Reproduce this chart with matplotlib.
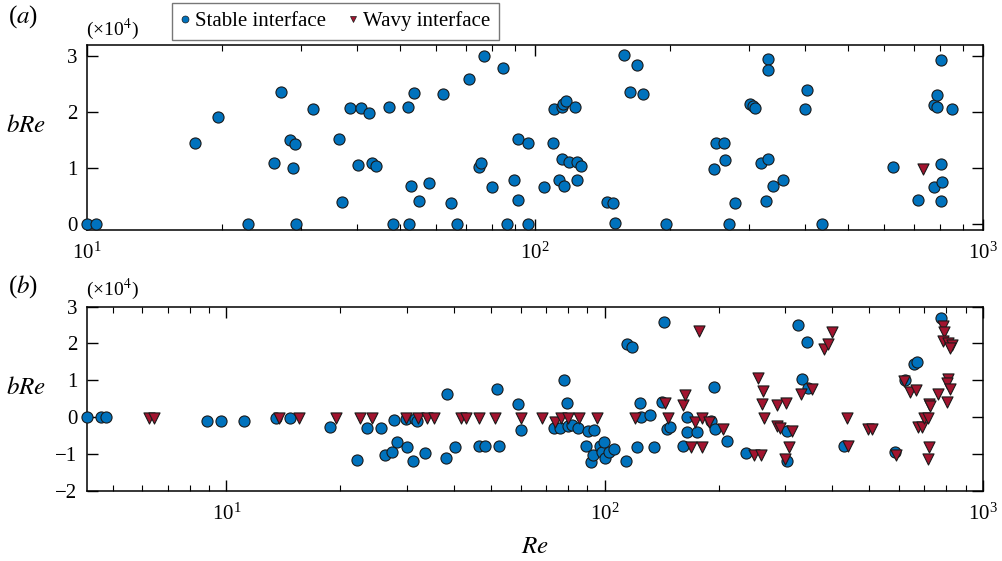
import matplotlib
matplotlib.use('Agg')
import matplotlib.pyplot as plt
from matplotlib.lines import Line2D

plt.rcParams['font.family'] = ['Liberation Serif', 'DejaVu Serif']
plt.rcParams['mathtext.fontset'] = 'stix'
plt.rcParams['axes.unicode_minus'] = True

BLUE = '#0072BD'
RED = '#A2142F'

# panel (a): Re and bRe (x1e4)
a_stable_re = [10.0, 10.46, 17.45, 19.6, 22.9, 26.2, 27.1, 28.4, 28.8, 29.1, 29.3, 32.0,
               36.6, 37.0, 38.6, 40.3, 40.9, 42.6, 43.3, 44.1, 47.3, 48.1, 52.1, 52.2,
               53.0, 53.8, 55.2, 58.0, 62.4, 64.8, 66.9, 71.3, 75.1, 75.8, 76.9, 80.2,
               84.9, 86.7, 89.6, 91.8, 91.8, 96.6, 96.6, 104.7, 109.5, 110.3, 113.3,
               114.7, 114.7, 115.6, 116.1, 117.1, 119.3, 122.8, 124.0, 124.3, 126.7,
               144.8, 149.3, 150.6, 158, 163, 169, 174, 196, 250.6, 254, 264, 266, 271,
               279.5, 302, 307, 310, 319.6, 327, 331, 332, 332, 340, 357, 400.6, 405,
               438, 630, 717, 776, 777, 788, 788, 805, 805, 807, 809, 851]
a_stable_b = [0.0, 0.0, 1.46, 1.92, 0.0, 1.09, 2.36, 1.51, 1.01, 1.44, 0.0, 2.05,
              1.52, 0.40, 2.08, 1.06, 2.08, 1.99, 1.10, 1.04, 2.09, 0.0, 2.09, 0.0,
              0.68, 2.35, 0.42, 0.74, 2.33, 0.39, 0.01, 2.59, 1.02, 1.10, 3.0, 0.66,
              2.79, 0.0, 0.79, 1.52, 0.43, 1.46, 0.0, 0.66, 1.45, 2.05, 0.79,
              2.09, 1.17, 2.14, 0.68, 2.20, 1.11, 2.09, 0.79, 1.11, 1.04,
              0.40, 0.38, 0.02, 3.02, 2.36, 2.84, 2.33, 0.0, 0.98, 1.46, 1.46, 1.15, 0.0,
              0.38, 2.15, 2.11, 2.08, 1.09, 0.42, 1.17, 2.95, 2.76, 0.68, 0.79, 2.06, 2.39,
              0.0, 1.03, 0.43, 0.67, 2.13, 2.31, 2.10, 2.93, 1.08, 0.41, 0.76, 2.06]
a_wavy_re = [735]
a_wavy_b = [0.99]

# panel (b)
b_stable_re = [4.28, 4.67, 4.80, 8.89, 9.66, 11.1, 13.5, 14.7, 18.75, 22.2, 23.5, 25.6,
               26.3, 27.4, 27.8, 28.3, 29.8, 30.1, 31.1, 31.5, 31.9, 33.5, 38.0, 38.3,
               40.3, 46.5, 48.4, 52.0, 52.6, 59.1, 60.0, 73.6, 76.2, 78.2, 79.4, 80.1,
               81.8, 85.0, 89.5, 90.5, 92.0, 93.3, 93.7, 97.2, 98.2, 99.5, 100.2, 102.7,
               106.0, 113.6, 114.8, 118.1, 121.7, 124.0, 124.7, 131.5, 135.0, 141.5,
               143.5, 146.4, 148.9, 164.8, 164.8, 161.4, 175.2, 190.7, 194.3, 195.8,
               210.3, 236.5, 303, 304, 325, 333, 342, 345.6, 430, 586, 623, 658, 671, 776]
b_stable_b = [0.0, -0.01, -0.01, -0.1, -0.1, -0.1, -0.03, -0.03, -0.28, -1.17, -0.29, -0.29,
              -1.03, -0.96, -0.09, -0.68, -0.05, -0.80, -1.18, -0.05, -0.10, -0.97, -1.11, 0.64,
              -0.82, -0.79, -0.78, 0.765, -0.78, 0.36, -0.36, -0.29, -0.29, 1.0, 0.38, -0.25,
              -0.22, -0.29, -0.79, -0.37, -1.21, -1.03, -0.36, -0.78, -0.96, -0.68, -1.11, -0.96,
              -0.86, -1.18, 1.99, 1.91, -0.81, 0.37, 0.0, 0.05, -0.81, 0.42,
              2.58, -0.31, -0.27, 0.0, -0.41, -0.78, -0.40, -0.11, 0.81, -0.31,
              -0.66, -0.97, -1.18, -0.37, 2.51, 1.04, 2.05, 0.78, -0.79, -0.95, 1.01, 1.45, 1.51, 2.68]
b_wavy_re = [6.23, 6.43, 13.8, 15.6, 19.5, 22.6, 24.2, 29.8, 32.1, 33.8, 35.4, 41.6, 43.1,
             46.5, 51.4, 60.0, 68.4, 73.9, 76.6, 80.1, 85.5, 95.6, 120.2, 144.4, 147.2,
             160.8, 163.5, 168.9, 173.7, 177.9, 180.6, 180.9, 189.1, 206, 248.3, 258.6,
             254.9, 261.8, 260, 262.9, 285, 285, 290.9, 301.8, 307, 300, 312.4, 330,
             352.9, 381, 390, 400, 438, 441, 498, 508, 590, 619, 642, 666, 675, 690, 699,
             714, 718, 725, 721, 714, 760, 782, 790, 783, 807, 827, 816, 807, 805, 819, 805]
b_wavy_b = [-0.03, -0.03, -0.03, -0.03, -0.03, -0.03, -0.03, -0.03, -0.03, -0.03, -0.03, -0.03, -0.03,
            -0.03, -0.03, -0.03, -0.03, -0.12, -0.03, -0.03, -0.03, -0.03, -0.03, 0.38, -0.03,
            0.34, 0.60, -0.81, -0.13, 2.33, -0.03, -0.80, -0.12, -0.31, -1.04, -1.04,
            1.07, 0.72, 0.35, -0.03, 0.33, -0.24, -0.30, 0.38, -0.82, -1.15, -0.39, 0.63,
            0.76, 1.86, 1.98, 2.31, -0.03, -0.79, -0.32, -0.32, -1.02, 0.98, 0.67, 0.74, -0.28, -0.28, -0.03,
            -0.03, 0.36, 0.31, -0.81, -1.15, 0.63, 2.47, 2.30, 2.07, 2.02, 1.95, 1.88, 1.04, 0.92, 0.76, 0.42]

fig = plt.figure(figsize=(10.02, 5.61), dpi=100)
ax1 = fig.add_axes([87/1002, 1-230/561, 896/1002, 185/561])
ax2 = fig.add_axes([87/1002, 1-490.7/561, 896/1002, 184/561])

for ax in (ax1, ax2):
    ax.set_xscale('log')
    ax.tick_params(which='both', direction='in', top=True, right=True, labelsize=15)
    ax.tick_params(which='major', length=8, width=1)
    ax.tick_params(which='minor', length=4.5, width=0.8)
    ax.tick_params(axis='x', which='major', pad=9)
    ax.tick_params(axis='y', which='major', pad=7)
    for s in ax.spines.values():
        s.set_linewidth(1.1)
    ax.set_ylabel('$bRe$', fontsize=18, rotation=0)
    ax.yaxis.set_label_coords(-0.068, 0.5)

kw = dict(s=64, edgecolors='#1a1a1a', linewidths=0.8, clip_on=False, zorder=3)
ax1.scatter(a_stable_re, a_stable_b, c=BLUE, marker='o', **kw)
ax1.scatter(a_wavy_re, a_wavy_b, c=RED, marker='v', **kw)
ax1.set_xlim(10, 1000)
ax1.set_ylim(-0.1, 3.2)
ax1.set_yticks([0, 1, 2, 3])
ax1.set_yticklabels(['0', '1', '2', '3'])

ax2.scatter(b_stable_re, b_stable_b, c=BLUE, marker='o', **kw)
ax2.scatter(b_wavy_re, b_wavy_b, c=RED, marker='v', **kw)
ax2.set_xlim(4.28, 1000)
ax2.set_ylim(-2, 3)
ax2.set_yticks([-2, -1, 0, 1, 2, 3])
ax2.set_yticklabels(['\u22122', '\u22121', '0', '1', '2', '3'])
ax2.set_xlabel('$Re$', fontsize=18, labelpad=8)

fig.text(8/1002, 1-17/561, '($a$)', fontsize=18, va='center')
fig.text(8/1002, 1-287/561, '($b$)', fontsize=18, va='center')
fig.text(86/1002, 1-29/561, '(\u00d710$^4$)', fontsize=14, va='center')
fig.text(86/1002, 1-289/561, '(\u00d710$^4$)', fontsize=14, va='center')

handles = [Line2D([], [], ls='none', marker='o', color=BLUE, mec='#1a1a1a', mew=0.5, ms=5),
           Line2D([], [], ls='none', marker='v', color=RED, mec='#1a1a1a', mew=0.5, ms=5)]
leg = fig.legend(handles, ['Stable interface', 'Wavy interface'], ncol=2,
                 loc='upper left', bbox_to_anchor=(172/1002, 1-3/561),
                 fontsize=15, frameon=True, fancybox=False, handlelength=0.4,
                 handletextpad=0.3, columnspacing=1.1, borderpad=0.4,
                 borderaxespad=0)
leg.get_frame().set_edgecolor('#555555')
leg.get_frame().set_linewidth(1.0)

plt.savefig('out.png', dpi=100)
plt.close()
